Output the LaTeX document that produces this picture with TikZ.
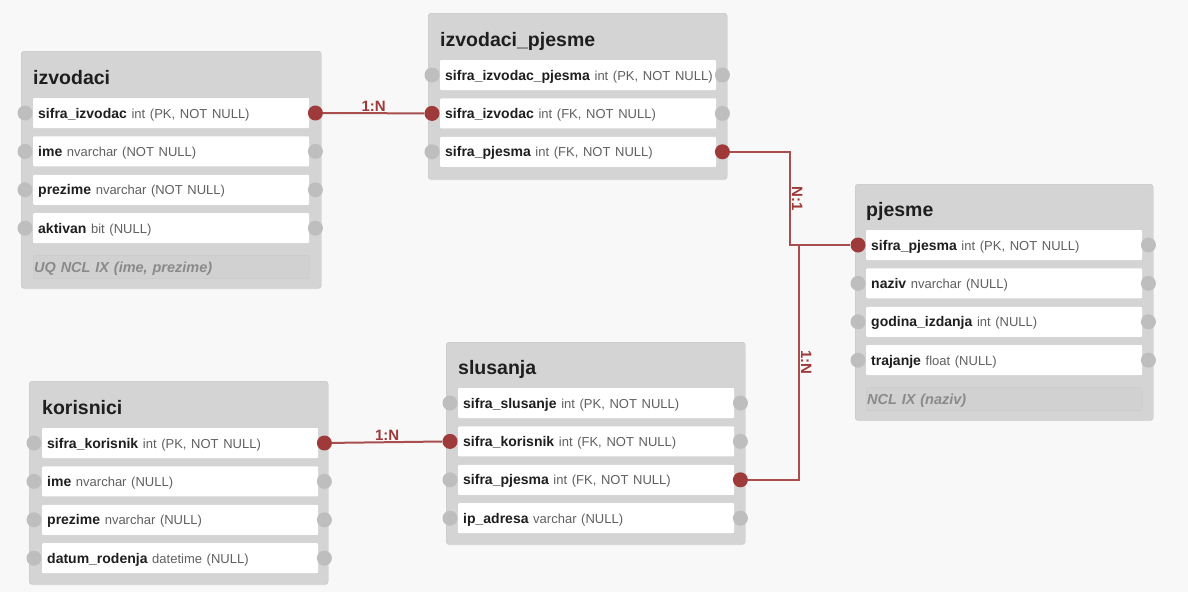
\documentclass[tikz,border=0pt]{standalone}
\usepackage{fontspec}
\setmainfont{Liberation Sans}
\usepackage{tikz}
\usetikzlibrary{positioning,shadows}

\definecolor{canvas}{HTML}{F8F8F8}
\definecolor{tablefill}{HTML}{D4D4D4}
\definecolor{tableline}{HTML}{C3C3C3}
\definecolor{idxfill}{HTML}{D1D1D1}
\definecolor{idxline}{HTML}{C9C9C9}
\definecolor{portgray}{HTML}{BEBEBE}
\definecolor{relred}{HTML}{9E3A3A}
\definecolor{namedark}{HTML}{1E1E1E}
\definecolor{typegray}{HTML}{606060}
\definecolor{idxgray}{HTML}{8A8A8A}

\tikzstyle{tablebox} = [draw=tableline, fill=tablefill, rounded corners=3pt, anchor=north west,
    drop shadow={shadow xshift=0pt, shadow yshift=-1pt, opacity=0.15}]
\tikzstyle{title} = [anchor=base west, inner sep=0pt, text=namedark, font=\bfseries\fontsize{19.5}{22}\selectfont]
\tikzstyle{field} = [fill=white, rounded corners=1pt, anchor=west, minimum height=30pt, text width=266pt,
    text height=12pt, text depth=2pt, inner xsep=5pt, align=left, text=namedark,
    font=\frenchspacing\bfseries\fontsize{14}{16}\selectfont]
\tikzstyle{index} = [draw=idxline, fill=idxfill, rounded corners=2pt, minimum height=23pt, text width=274pt,
    text height=12pt, text depth=2pt, inner xsep=1pt, align=left, text=idxgray,
    font=\frenchspacing\bfseries\itshape\fontsize{14.5}{16}\selectfont]
\tikzstyle{port} = [circle, fill=portgray, minimum size=15pt, inner sep=0pt]
\tikzstyle{fkport} = [port, fill=relred]
\tikzstyle{rel} = [line width=2pt, relred!90!white]
\tikzstyle{rellabel} = [text=relred, inner sep=1pt, font=\bfseries\fontsize{15}{17}\selectfont]
\tikzstyle{rotlabel} = [rellabel, rotate=-90, anchor=south]

% type part of a field
\newcommand{\ftype}[1]{{\mdseries\fontsize{13}{15}\selectfont\color{typegray}#1}}
% field row with its two ports: id, placement, left port, right port, text
\newcommand{\dbrow}[5]{%
    \node[field, #2] (#1) {\mbox{#5}};
    \node[#3] (#1-l) at ([xshift=-8pt]#1.west) {};
    \node[#4] (#1-r) at ([xshift=6pt]#1.east) {};
}

\begin{document}
\begin{tikzpicture}[x=1pt, y=-1pt]

    % Canvas
    \fill[canvas] (0,0) rectangle (1188,592);
    \useasboundingbox (0,0) rectangle (1188,592);

    % Tables
    \node[tablebox, minimum width=300pt, minimum height=237pt] (izvodaci) at (21,51) {};
    \node[tablebox, minimum width=299pt, minimum height=166pt] (izvodaci_pjesme) at (428,13) {};
    \node[tablebox, minimum width=298pt, minimum height=236pt] (pjesme) at (855,184) {};
    \node[tablebox, minimum width=299pt, minimum height=202pt] (slusanja) at (446,342) {};
    \node[tablebox, minimum width=299pt, minimum height=203pt] (korisnici) at (29,381) {};

    % izvodaci
    \node[title] (izvodaci-t) at (33,84.5) {izvodaci};
    \dbrow{iz-sifra}{at={(33,113)}}{port}{fkport}{sifra\_izvodac \ftype{int (PK, NOT NULL)}}
    \dbrow{iz-ime}{below=8pt of iz-sifra}{port}{port}{ime \ftype{nvarchar (NOT NULL)}}
    \dbrow{iz-prezime}{below=8pt of iz-ime}{port}{port}{prezime \ftype{nvarchar (NOT NULL)}}
    \dbrow{iz-aktivan}{below=8pt of iz-prezime}{port}{port}{aktivan \ftype{bit (NULL)}}
    \node[index, below=12pt of iz-aktivan] (iz-idx) {UQ NCL IX (ime, prezime)};

    % izvodaci_pjesme
    \node[title] (ijp-t) at (440,46) {izvodaci\_pjesme};
    \dbrow{ijp-sifra}{at={(440,75)}}{port}{port}{sifra\_izvodac\_pjesma \ftype{int (PK, NOT NULL)}}
    \dbrow{ijp-izv}{below=8pt of ijp-sifra}{fkport}{port}{sifra\_izvodac \ftype{int (FK, NOT NULL)}}
    \dbrow{ijp-pj}{below=8pt of ijp-izv}{port}{fkport}{sifra\_pjesma \ftype{int (FK, NOT NULL)}}

    % pjesme
    \node[title] (pj-t) at (866,216.5) {pjesme};
    \dbrow{pj-sifra}{at={(866,245)}}{fkport}{port}{sifra\_pjesma \ftype{int (PK, NOT NULL)}}
    \dbrow{pj-naziv}{below=8pt of pj-sifra}{port}{port}{naziv \ftype{nvarchar (NULL)}}
    \dbrow{pj-godina}{below=8pt of pj-naziv}{port}{port}{godina\_izdanja \ftype{int (NULL)}}
    \dbrow{pj-trajanje}{below=8pt of pj-godina}{port}{port}{trajanje \ftype{float (NULL)}}
    \node[index, below=12pt of pj-trajanje] (pj-idx) {NCL IX (naziv)};

    % slusanja
    \node[title] (sl-t) at (458,374.5) {slusanja};
    \dbrow{sl-sifra}{at={(458,403)}}{port}{port}{sifra\_slusanje \ftype{int (PK, NOT NULL)}}
    \dbrow{sl-kor}{below=8pt of sl-sifra}{fkport}{port}{sifra\_korisnik \ftype{int (FK, NOT NULL)}}
    \dbrow{sl-pj}{below=8pt of sl-kor}{port}{fkport}{sifra\_pjesma \ftype{int (FK, NOT NULL)}}
    \dbrow{sl-ip}{below=8pt of sl-pj}{port}{port}{ip\_adresa \ftype{varchar (NULL)}}

    % korisnici
    \node[title] (ko-t) at (42,414) {korisnici};
    \dbrow{ko-sifra}{at={(42,443)}}{port}{fkport}{sifra\_korisnik \ftype{int (PK, NOT NULL)}}
    \dbrow{ko-ime}{below=8pt of ko-sifra}{port}{port}{ime \ftype{nvarchar (NULL)}}
    \dbrow{ko-prezime}{below=8pt of ko-ime}{port}{port}{prezime \ftype{nvarchar (NULL)}}
    \dbrow{ko-datum}{below=8pt of ko-prezime}{port}{port}{datum\_rodenja \ftype{datetime (NULL)}}

    % Relations
    \coordinate (j1) at (790,245);
    \coordinate (j2) at (799,245);
    \draw[rel] (iz-sifra-r) -- node[rellabel, above]{1:N} (ijp-izv-l);
    \draw[rel] (ijp-pj-r) -| node[rotlabel, pos=0.75]{N:1} (j1) -- (pj-sifra-l);
    \draw[rel] (sl-pj-r) -| node[rotlabel, pos=0.75]{1:N} (j2);
    \draw[rel] (ko-sifra-r) -- node[rellabel, above]{1:N} (sl-kor-l);
\end{tikzpicture}
\end{document}
